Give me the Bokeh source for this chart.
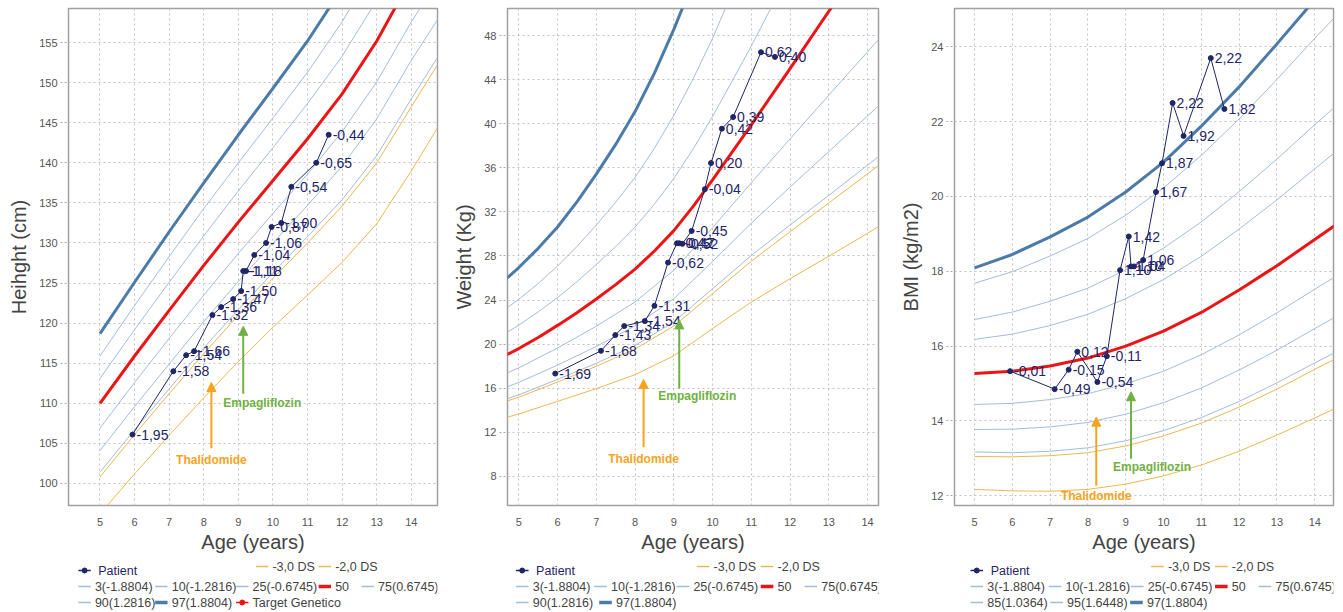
from bokeh.plotting import figure
from bokeh.models import (ColumnDataSource, Arrow, NormalHead, Label, FixedTicker, Range1d)
from bokeh.layouts import row, column
from bokeh.embed import file_html
from bokeh.resources import INLINE
from bokeh.core.properties import value

# ---------------- patient data ----------------
visit_age = [5.94, 7.12, 7.49, 7.72, 8.25, 8.50, 8.85, 9.08, 9.14, 9.22,
             9.46, 9.80, 9.96, 10.24, 10.53, 11.25, 11.61]
height_cm = [106.1, 114.0, 116.0, 116.5, 121.0, 122.0, 123.0, 124.0, 126.5, 126.5,
             128.5, 130.0, 132.0, 132.5, 137.0, 140.0, 143.5]
height_z = ["-1,95", "-1,58", "-1,54", "-1,66", "-1,32", "-1,36", "-1,47", "-1,50", "-1,11", "-1,18",
            "-1,04", "-1,06", "-0,87", "-1,00", "-0,54", "-0,65", "-0,44"]
weight_kg = [17.33, 19.39, 20.82, 21.64, 22.09, 23.48, 27.4, 29.15, 29.15, 29.1,
             30.27, 34.06, 36.43, 39.55, 40.6, 46.48, 46.06]
weight_z = ["-1,69", "-1,68", "-1,43", "-1,34", "-1,54", "-1,31", "-0,62", "-0,42", "-0,47", "-0,52",
            "-0,45", "-0,04", "0,20", "0,42", "0,39", "0,62", "0,40"]
bmi_val = [15.33, 14.85, 15.37, 15.85, 15.04, 15.73, 18.03, 18.93, 18.13, 18.13,
           18.3, 20.12, 20.89, 22.5, 21.62, 23.7, 22.34]
bmi_z = ["-0,01", "-0,49", "-0,15", "0,12", "-0,54", "-0,11", "1,10", "1,42", "1,10", "1,04",
         "1,06", "1,67", "1,87", "2,22", "1,92", "2,22", "1,82"]

thalidomide_age = 8.22
empagliflozin_age = 9.14

# ---------------- reference curves: height ----------------
ref_age_h = [5, 6, 7, 8, 9, 10, 11, 12, 13, 14, 15]
h_m3sd = [96.2, 101.2, 106.0, 110.7, 115.2, 119.5, 123.5, 127.6, 132.4, 139.0, 146.1]
h_m2sd = [100.8, 106.1, 111.2, 116.2, 121.0, 125.6, 130.0, 134.6, 140.0, 147.0, 153.9]
h_p3 = [101.4, 106.7, 111.8, 116.9, 121.7, 126.3, 130.8, 135.4, 140.9, 148.0, 154.8]
h_p10 = [104.1, 109.6, 114.9, 120.2, 125.2, 130.0, 134.7, 139.6, 145.5, 152.8, 159.5]
h_p25 = [106.9, 112.6, 118.1, 123.5, 128.7, 133.7, 138.6, 143.9, 150.1, 157.6, 164.2]
h_p50 = [110.0, 115.9, 121.6, 127.2, 132.6, 137.8, 143.0, 148.6, 155.2, 163.0, 169.5]
h_p75 = [113.1, 119.2, 125.1, 130.9, 136.5, 141.9, 147.4, 153.3, 160.3, 168.4, 174.8]
h_p90 = [115.9, 122.2, 128.3, 134.3, 140.0, 145.6, 151.3, 157.6, 164.9, 173.3, 179.5]
h_p97 = [118.7, 125.1, 131.4, 137.5, 143.5, 149.3, 155.2, 161.8, 169.5, 178.0, 184.2]

# ---------------- reference curves: weight ----------------
ref_age_w = [4.5, 5, 6, 7, 8, 9, 10, 11, 12, 13, 14, 15]
w_m3sd = [13.17, 13.66, 14.81, 15.96, 17.23, 18.94, 21.41, 23.82, 25.94, 27.97, 30.05, 32.25]
w_m2sd = [14.61, 15.19, 16.56, 17.99, 19.56, 21.64, 24.58, 27.52, 30.20, 32.81, 35.45, 38.16]
w_p3 = [14.80, 15.40, 16.80, 18.26, 19.88, 22.02, 25.02, 28.04, 30.81, 33.50, 36.23, 39.02]
w_p10 = [15.86, 16.53, 18.10, 19.79, 21.66, 24.12, 27.50, 30.97, 34.25, 37.47, 40.70, 43.96]
w_p25 = [17.09, 17.85, 19.65, 21.62, 23.83, 26.70, 30.57, 34.64, 38.62, 42.59, 46.52, 50.43]
ref_age_w_fine = [4.5, 5, 5.5, 6, 6.5, 7, 7.5, 8, 8.5, 9, 9.5, 10, 10.5, 11, 11.5, 12, 12.5, 13, 14, 15]
w_p50 = [18.7, 19.6, 20.6, 21.7, 22.85, 24.1, 25.4, 26.8, 28.45, 30.3, 32.5, 34.9, 37.4, 39.9,
         42.45, 45.0, 47.6, 50.2, 55.3, 60.3]
w_p75 = [20.65, 21.72, 22.92, 24.23, 25.66, 27.22, 28.85, 30.62, 32.70, 35.03, 37.71, 40.66, 43.83,
         47.04, 50.45, 53.91, 57.49, 61.13, 68.18, 74.96]
w_p90 = [22.79, 24.07, 25.50, 27.08, 28.86, 30.81, 32.88, 35.13, 37.77, 40.74, 44.08, 47.75, 51.85,
         56.07, 60.75, 65.6, 70.7, 76.0, 86.3, 96.0]
w_p97 = [25.38, 26.95, 28.69, 30.63, 32.90, 35.42, 38.12, 41.10, 44.59, 48.56, 52.89, 57.68, 63.28,
         69.16, 76.06, 83.4, 91.45, 100.0, 116.8, 132.6]

# ---------------- reference curves: BMI ----------------
ref_age_b = [5, 6, 7, 8, 9, 10, 11, 12, 13, 14, 15]
b_m3sd = [12.17, 12.13, 12.12, 12.17, 12.31, 12.53, 12.82, 13.19, 13.62, 14.08, 14.54]
b_m2sd = [13.05, 13.04, 13.07, 13.15, 13.33, 13.60, 13.94, 14.37, 14.85, 15.38, 15.89]
b_p3 = [13.17, 13.15, 13.19, 13.28, 13.47, 13.74, 14.09, 14.52, 15.02, 15.55, 16.07]
b_p10 = [13.77, 13.78, 13.84, 13.96, 14.18, 14.49, 14.88, 15.36, 15.89, 16.47, 17.04]
b_p25 = [14.44, 14.47, 14.57, 14.73, 14.99, 15.33, 15.77, 16.30, 16.89, 17.52, 18.14]
b_p50 = [15.27, 15.33, 15.47, 15.68, 16.0, 16.4, 16.9, 17.5, 18.15, 18.85, 19.55]
b_p75 = [16.18, 16.32, 16.55, 16.85, 17.27, 17.78, 18.40, 19.13, 19.91, 20.74, 21.56]
b_p85 = [16.71, 16.91, 17.20, 17.55, 18.04, 18.62, 19.32, 20.13, 21.00, 21.92, 22.81]
b_p95 = [17.68, 17.99, 18.41, 18.88, 19.50, 20.23, 21.10, 22.07, 23.13, 24.23, 25.29]
b_p97 = [18.09, 18.45, 18.92, 19.45, 20.12, 20.92, 21.88, 22.93, 24.08, 25.26, 26.40]

# ---------------- ticks / labels ----------------
age_ticks = [5, 6, 7, 8, 9, 10, 11, 12, 13, 14]
h_ticks = [100, 105, 110, 115, 120, 125, 130, 135, 140, 145, 150, 155]
w_ticks = [8, 12, 16, 20, 24, 28, 32, 36, 40, 44, 48]
b_ticks = [12, 14, 16, 18, 20, 22, 24]

# ---------------- styles ----------------
FONT = "Liberation Sans"
NAVY = "#1f2568"
THIN = "#a5bcd9"
THICK = "#4b7ba8"
RED = "#ec1515"
GOLD = "#ebb852"
ORANGE = "#f5a41c"
GREEN = "#6fb142"
TXT = "#444444"
MAIN_H = 560
LEG_H = 52


def base_fig(width, left, right, xr, yr, yticks, ylabel):
    p = figure(width=width, height=MAIN_H, x_range=Range1d(*xr), y_range=Range1d(*yr),
               output_backend="svg", toolbar_location=None,
               min_border_left=left, min_border_right=right,
               min_border_top=8, min_border_bottom=MAIN_H - 505)
    p.outline_line_color = "#a0a0a0"
    p.outline_line_width = 1.5
    xt = FixedTicker(ticks=age_ticks)
    yt = FixedTicker(ticks=yticks)
    p.xaxis[0].ticker = xt
    p.xgrid[0].ticker = xt
    p.yaxis[0].ticker = yt
    p.ygrid[0].ticker = yt
    p.grid.grid_line_color = "#c2c2c2"
    p.grid.grid_line_dash = "2 3"
    p.grid.grid_line_width = 1
    p.axis.axis_label_text_font = FONT
    p.axis.axis_label_text_font_size = "20px"
    p.axis.axis_label_text_font_style = "normal"
    p.axis.axis_label_text_color = TXT
    p.axis.major_label_text_font = FONT
    p.axis.major_label_text_font_size = "11px"
    p.axis.major_label_text_color = "#555555"
    p.axis.minor_tick_line_color = None
    p.axis.axis_line_color = None
    p.xaxis.major_tick_line_color = None
    p.xaxis.major_label_standoff = 6
    p.xaxis.axis_label_standoff = 2
    p.xaxis.axis_label = "Age (years)"
    p.yaxis.major_tick_out = 8
    p.yaxis.major_tick_in = 0
    p.yaxis.major_tick_line_color = "#aaaaaa"
    p.yaxis.major_tick_line_dash = "2 2"
    p.yaxis.major_label_standoff = 3
    p.yaxis.axis_label_standoff = 6
    p.yaxis.axis_label = ylabel
    return p


def draw_curves(p, curves):
    for ages, vals, color, lw in curves:
        p.line(ages, vals, line_color=color, line_width=lw)


def draw_patient(p, yvals, labels):
    src = ColumnDataSource(dict(x=visit_age, y=yvals, t=labels))
    p.line('x', 'y', source=src, line_color=NAVY, line_width=1)
    p.scatter('x', 'y', source=src, size=5, color=NAVY)
    p.text('x', 'y', text='t', source=src, x_offset=4, text_baseline="middle",
           text_align="left", text_font=value(FONT), text_font_size="14px", text_color=NAVY)


def add_arrow(p, x, y0, y1, color, text, ty, dx):
    p.add_layout(Arrow(end=NormalHead(size=9, fill_color=color, line_color=color),
                       x_start=x, y_start=y0, x_end=x, y_end=y1,
                       line_color=color, line_width=2))
    p.add_layout(Label(x=x, y=ty, text=text, x_offset=dx, text_align="center",
                       text_baseline="middle", text_font=FONT, text_font_size="12px",
                       text_font_style="bold", text_color=color))


def legend_fig(width, base, entries):
    """Legend strip drawn in a pixel-unit figure.
    entries: (label, colour, line width, with dot, column offset, row y, text colour, text gap)"""
    q = figure(width=width, height=LEG_H, x_range=Range1d(0, width), y_range=Range1d(0, LEG_H),
               output_backend="svg", toolbar_location=None,
               x_axis_location=None, y_axis_location=None,
               min_border_left=0, min_border_right=0, min_border_top=0, min_border_bottom=0)
    q.grid.visible = False
    q.outline_line_color = None
    seg = dict(x0=[], x1=[], y=[], c=[], w=[])
    dots = dict(x=[], y=[], c=[])
    txt = dict(x=[], y=[], t=[], c=[])
    for label, color, lw, dot, off, yy, tc, gap in entries:
        x = base + off
        seg["x0"].append(x)
        seg["x1"].append(x + 15)
        seg["y"].append(yy)
        seg["c"].append(color)
        seg["w"].append(lw)
        if dot:
            dots["x"].append(x + 7.5)
            dots["y"].append(yy)
            dots["c"].append(color)
        txt["x"].append(x + 15 + gap)
        txt["y"].append(yy)
        txt["t"].append(label)
        txt["c"].append(tc)
    q.segment('x0', 'y', 'x1', 'y', source=ColumnDataSource(seg), line_color='c', line_width='w')
    q.scatter('x', 'y', source=ColumnDataSource(dots), size=5, color='c')
    q.text('x', 'y', text='t', source=ColumnDataSource(txt), text_baseline="middle",
           text_align="left", text_font=value(FONT), text_font_size="12.5px", text_color='c')
    return q


# legend rows (y in strip pixels from bottom)
Y1P, Y1D, Y2, Y3 = 42, 46, 26, 10
common = [
    ("Patient", NAVY, 1.5, True, 0, Y1P, NAVY, 9),
    ("-3,0 DS", GOLD, 1.5, False, 215, Y1D, TXT, 5),
    ("-2,0 DS", GOLD, 1.5, False, 291, Y1D, TXT, 5),
    ("3(-1.8804)", THIN, 1.5, False, 0, Y2, TXT, 5),
    ("10(-1.2816)", THIN, 1.5, False, 93, Y2, TXT, 5),
    ("25(-0.6745)", THIN, 1.5, False, 191, Y2, TXT, 5),
    ("50", RED, 3.5, False, 291, Y2, TXT, 5),
    ("75(0.6745)", THIN, 1.5, False, 343, Y2, TXT, 5),
]

# ---------------- panel 1: height ----------------
p1 = base_fig(447, 68, 10, (4.09, 14.755), (97.25, 159.25), h_ticks, "Heihght (cm)")
draw_curves(p1, [
    (ref_age_h, h_m3sd, GOLD, 1), (ref_age_h, h_m2sd, GOLD, 1), (ref_age_h, h_p3, THIN, 1),
    (ref_age_h, h_p10, THIN, 1), (ref_age_h, h_p25, THIN, 1), (ref_age_h, h_p75, THIN, 1),
    (ref_age_h, h_p90, THIN, 1), (ref_age_h, h_p50, RED, 3), (ref_age_h, h_p97, THICK, 3)])
draw_patient(p1, height_cm, height_z)
add_arrow(p1, thalidomide_age, 104.4, 112.6, ORANGE, "Thalidomide", 102.9, 0)
add_arrow(p1, empagliflozin_age, 111.2, 119.6, GREEN, "Empagliflozin", 110.0, 19)
l1 = legend_fig(447, 12, common + [
    ("90(1.2816)", THIN, 1.5, False, 0, Y3, TXT, 5),
    ("97(1.8804)", THICK, 3.5, False, 93, Y3, TXT, 5),
    ("Target Genetico", RED, 1.5, True, 191, Y3, TXT, 5)])

# ---------------- panel 2: weight ----------------
p2 = base_fig(441, 60, 10, (4.708, 14.282), (5.36, 50.45), w_ticks, "Weight (Kg)")
draw_curves(p2, [
    (ref_age_w, w_m3sd, GOLD, 1), (ref_age_w, w_m2sd, GOLD, 1), (ref_age_w, w_p3, THIN, 1),
    (ref_age_w, w_p10, THIN, 1), (ref_age_w, w_p25, THIN, 1), (ref_age_w_fine, w_p75, THIN, 1),
    (ref_age_w_fine, w_p90, THIN, 1), (ref_age_w_fine, w_p50, RED, 3),
    (ref_age_w_fine, w_p97, THICK, 3)])
draw_patient(p2, weight_kg, weight_z)
add_arrow(p2, thalidomide_age, 10.64, 16.8, ORANGE, "Thalidomide", 9.6, 0)
add_arrow(p2, empagliflozin_age, 15.97, 22.2, GREEN, "Empagliflozin", 15.3, 18)
l2 = legend_fig(441, 10, common + [
    ("90(1.2816)", THIN, 1.5, False, 0, Y3, TXT, 5),
    ("97(1.8804)", THICK, 3.5, False, 99, Y3, TXT, 5)])

# ---------------- panel 3: BMI ----------------
p3 = base_fig(451, 66, 6, (4.47, 14.496), (11.739, 25.026), b_ticks, "BMI (kg/m2)")
draw_curves(p3, [
    (ref_age_b, b_m3sd, GOLD, 1), (ref_age_b, b_m2sd, GOLD, 1), (ref_age_b, b_p3, THIN, 1),
    (ref_age_b, b_p10, THIN, 1), (ref_age_b, b_p25, THIN, 1), (ref_age_b, b_p75, THIN, 1),
    (ref_age_b, b_p85, THIN, 1), (ref_age_b, b_p95, THIN, 1), (ref_age_b, b_p50, RED, 3),
    (ref_age_b, b_p97, THICK, 3)])
draw_patient(p3, bmi_val, bmi_z)
add_arrow(p3, thalidomide_age, 12.27, 14.1, ORANGE, "Thalidomide", 12.0, 0)
add_arrow(p3, empagliflozin_age, 12.99, 14.78, GREEN, "Empagliflozin", 12.76, 21)
l3 = legend_fig(451, 19, common + [
    ("85(1.0364)", THIN, 1.5, False, 0, Y3, TXT, 5),
    ("95(1.6448)", THIN, 1.5, False, 95, Y3, TXT, 5),
    ("97(1.8804)", THICK, 3.5, False, 190, Y3, TXT, 5)])

layout = row(column(p1, l1), column(p2, l2), column(p3, l3))
open("out.html", "w").write(file_html(layout, INLINE))
